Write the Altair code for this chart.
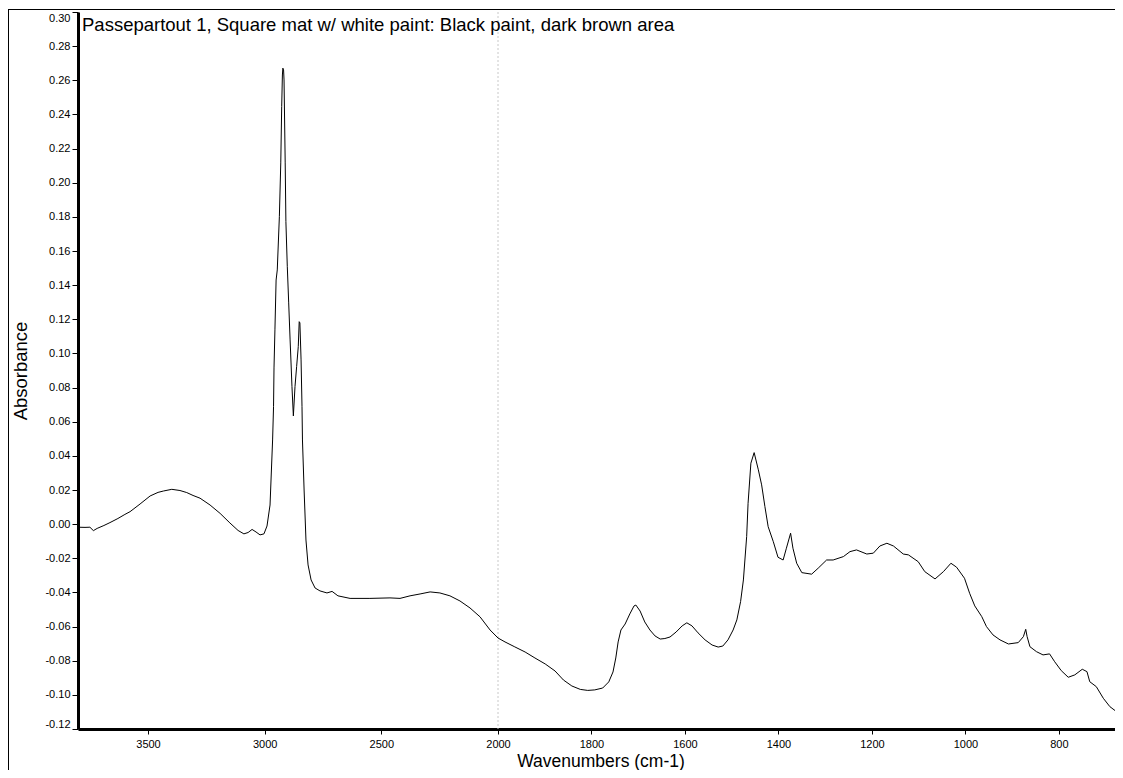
import altair as alt
import pandas as pd

# Spectrum values
wavenumber = [3800, 3770, 3749, 3734, 3718, 3689, 3663, 3629, 3599, 3577,
              3534, 3491, 3457, 3434, 3398, 3363, 3334, 3307, 3277, 3234,
              3191, 3149, 3114, 3089, 3071, 3054, 3037, 3020, 3003, 2990,
              2977, 2966, 2962, 2960, 2956, 2951, 2946, 2937, 2931, 2927,
              2924, 2922, 2919, 2917, 2912, 2909, 2903, 2897, 2891, 2887,
              2883, 2877, 2870, 2863, 2856, 2852, 2849, 2844, 2840, 2838,
              2831, 2823, 2814, 2801, 2784, 2763, 2733, 2711, 2686, 2634,
              2549, 2463, 2420, 2377, 2334, 2291, 2249, 2206, 2163, 2120,
              2077, 2034, 2000, 1985, 1964, 1942, 1921, 1899, 1878, 1860,
              1842, 1824, 1808, 1793, 1776, 1763, 1754, 1748, 1743, 1737,
              1728, 1718, 1709, 1705, 1696, 1686, 1675, 1664, 1653, 1643,
              1632, 1619, 1606, 1596, 1585, 1572, 1557, 1542, 1529, 1519,
              1508, 1497, 1489, 1481, 1475, 1468, 1465, 1459, 1452, 1443,
              1436, 1429, 1422, 1411, 1401, 1390, 1383, 1374, 1369, 1361,
              1350, 1329, 1315, 1297, 1283, 1261, 1247, 1233, 1211, 1197,
              1183, 1168, 1154, 1133, 1122, 1101, 1087, 1065, 1047, 1031,
              1019, 1002, 991, 980, 965, 955, 941, 926, 908, 887,
              876, 871, 868, 862, 848, 834, 820, 809, 795, 780,
              766, 750, 740, 734, 720, 705, 691, 677, 666, 663]

absorbance = [-0.0018, -0.0019, -0.0018, -0.0038, -0.0025, -0.0008, 0.0009, 0.0033, 0.0057, 0.0073,
              0.0118, 0.0165, 0.0186, 0.0194, 0.0204, 0.0197, 0.0185, 0.0168, 0.0152, 0.0112,
              0.0063, 0.0007, -0.0037, -0.0057, -0.0049, -0.0031, -0.0046, -0.0063, -0.0057, -0.0011,
              0.0112, 0.0493, 0.0688, 0.0915, 0.1138, 0.143, 0.1489, 0.1801, 0.2116, 0.2446,
              0.2631, 0.2671, 0.2661, 0.2602, 0.2116, 0.1772, 0.1508, 0.1296, 0.1079, 0.0944,
              0.0806, 0.0634, 0.0806, 0.0923, 0.104, 0.1186, 0.1179, 0.0962, 0.0688, 0.0493,
              0.020, -0.0093, -0.0239, -0.0327, -0.0374, -0.0391, -0.0403, -0.0394, -0.042, -0.0435,
              -0.0435, -0.0432, -0.0435, -0.042, -0.0409, -0.0397, -0.0403, -0.042, -0.045, -0.0491,
              -0.0543, -0.062, -0.0667, -0.069, -0.0719, -0.0749, -0.0784, -0.0819, -0.086, -0.0913,
              -0.0948, -0.0968, -0.0974, -0.0971, -0.096, -0.0924, -0.0866, -0.0784, -0.069, -0.062,
              -0.0585, -0.0526, -0.0479, -0.0474, -0.0509, -0.0573, -0.062, -0.0655, -0.0673, -0.067,
              -0.0661, -0.0632, -0.0596, -0.0578, -0.0596, -0.0637, -0.0678, -0.0708, -0.072, -0.0714,
              -0.0678, -0.062, -0.0561, -0.0454, -0.0327, -0.0073, 0.0122, 0.0357, 0.0419, 0.0318,
              0.023, 0.0103, -0.0015, -0.0103, -0.0194, -0.021, -0.0141, -0.0053, -0.0141, -0.0229,
              -0.0284, -0.0293, -0.0258, -0.021, -0.021, -0.019, -0.0161, -0.0151, -0.0175, -0.017,
              -0.0128, -0.0112, -0.0128, -0.0175, -0.018, -0.022, -0.0278, -0.0321, -0.0278, -0.0229,
              -0.0252, -0.0317, -0.0405, -0.0479, -0.0542, -0.06, -0.0649, -0.0678, -0.0702, -0.0694,
              -0.0659, -0.0616, -0.0659, -0.0718, -0.0747, -0.0766, -0.076, -0.0806, -0.0858, -0.0897,
              -0.0883, -0.085, -0.0864, -0.0923, -0.0952, -0.102, -0.1069, -0.1098, -0.1137, -0.1186]

x_ticks = [3500, 3000, 2500, 2000, 1800, 1600, 1400, 1200, 1000, 800]
y_ticks = [-0.12, -0.10, -0.08, -0.06, -0.04, -0.02, 0.00, 0.02, 0.04, 0.06, 0.08,
           0.10, 0.12, 0.14, 0.16, 0.18, 0.20, 0.22, 0.24, 0.26, 0.28, 0.30]
x_domain = [3800, 2000, 680]
y_domain = [-0.12, 0.30]
split_at = [2000]

title_text = "Passepartout 1, Square mat w/ white paint: Black paint, dark brown area"

W, H = 1037, 717
FONT = "Liberation Sans"

df = pd.DataFrame({"wn": wavenumber, "abs": absorbance})
x_scale = alt.Scale(domain=x_domain, range=[0, 420, W], nice=False, zero=False)
y_scale = alt.Scale(domain=y_domain, nice=False, zero=False)

x_axis = alt.Axis(values=x_ticks, format="d", title="Wavenumbers (cm-1)",
                  labelFlush=False, tickSize=5, labelPadding=4,
                  titleFontSize=17.5,
                  titleX=522.5, titleY=37, titleBaseline="alphabetic",
                  titleAlign="center")
y_axis = alt.Axis(values=y_ticks, title="Absorbance",
                  labelExpr="replace(format(datum.value, '.2f'), '\u2212', '-')",
                  labelFlush=True, tickSize=6, labelPadding=2,
                  titleFontSize=18.5,
                  titleX=-58, titleY=H / 2, titleAngle=270,
                  titleAlign="center", titleBaseline="middle")

line = alt.Chart(df).mark_line(color="black", strokeWidth=1, clip=True).encode(
    x=alt.X("wn:Q", scale=x_scale, axis=x_axis),
    y=alt.Y("abs:Q", scale=y_scale, axis=y_axis),
)

divider = alt.Chart(pd.DataFrame({"wn": split_at})).mark_rule(
    color="#c8c8c8", strokeDash=[2, 2], strokeWidth=1
).encode(x=alt.X("wn:Q", scale=x_scale))

one = pd.DataFrame({"k": [0]})
frame_top = alt.Chart(one).mark_rule(color="black", strokeWidth=1).encode(
    x=alt.value(-70), x2=alt.value(W), y=alt.value(-2.5)
)
frame_left = alt.Chart(one).mark_rule(color="black", strokeWidth=1).encode(
    x=alt.value(-69.5), y=alt.value(-3), y2=alt.value(H + 60)
)

label = alt.Chart(one).mark_text(
    align="left", baseline="alphabetic", fontSize=18.5, font=FONT, color="black"
).encode(x=alt.value(4), y=alt.value(19), text=alt.value(title_text))

chart = (
    alt.layer(frame_top, frame_left, divider, line, label)
    .properties(
        width=W, height=H,
        padding={"left": 70, "top": 4, "right": 0, "bottom": 41},
        autosize=alt.AutoSizeParams(type="none"),
    )
    .configure_view(stroke=None)
    .configure_axis(
        grid=False,
        domainColor="black", domainWidth=3,
        tickColor="black", tickWidth=1,
        labelFont=FONT, labelFontSize=11, labelColor="black",
        titleFont=FONT, titleFontWeight="normal", titleColor="black",
        labelOverlap=False,
    )
)

chart.save("out.html", embed_options={"renderer": "svg", "actions": False})
